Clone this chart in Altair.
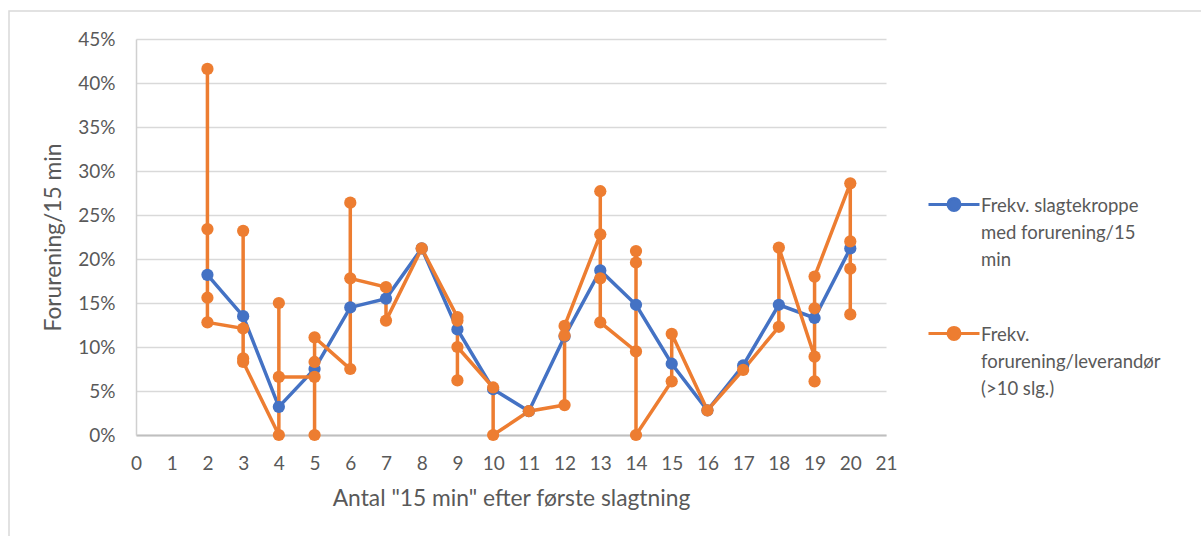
import altair as alt
import pandas as pd

# Blue series: frequency per 15 min
blue_x = list(range(2, 21))
blue_y = [18.2, 13.5, 3.2, 7.5, 14.5, 15.5, 21.2, 12.0, 5.2, 2.7, 11.2, 18.7, 14.8, 8.1, 2.8, 7.9, 14.8, 13.3, 21.2]

# Orange series: frequency per supplier (drawn in this order)
orange_x = [2, 2, 2, 2, 3, 3, 3, 3, 4, 4, 4, 5, 5, 5, 5, 6, 6, 6, 7, 7, 8,
            9, 9, 9, 9, 10, 10, 11, 12, 12, 12, 13, 13, 13, 13, 14, 14, 14, 14,
            15, 15, 16, 17, 18, 18, 19, 19, 19, 19, 20, 20, 20, 20]
orange_y = [41.6, 23.4, 15.6, 12.8, 12.1, 23.2, 8.7, 8.3, 0.0, 15.0, 6.6, 6.6, 0.0, 8.3, 11.1,
            7.5, 26.4, 17.8, 16.8, 13.0, 21.2, 13.4, 13.0, 6.2, 10.0, 5.4, 0.0, 2.7,
            3.4, 11.3, 12.4, 22.8, 27.7, 17.8, 12.8, 9.5, 20.9, 19.6, 0.0, 6.1, 11.5,
            2.8, 7.4, 12.3, 21.3, 8.9, 6.1, 14.4, 18.0, 28.6, 22.0, 18.9, 13.7]

s_blue = "Frekv. slagtekroppe med forurening/15 min"
s_orange = "Frekv. forurening/leverandør (>10 slg.)"
series_names = [s_blue, s_orange]
series_colors = ["#4472C4", "#ED7D31"]
y_ticks = [0, 5, 10, 15, 20, 25, 30, 35, 40, 45]
x_ticks = list(range(0, 22))

rows = []
for i, (x, y) in enumerate(zip(blue_x, blue_y)):
    rows.append({"x": x, "y": y, "series": s_blue, "idx": i})
for i, (x, y) in enumerate(zip(orange_x, orange_y)):
    rows.append({"x": x, "y": y, "series": s_orange, "idx": i})
df = pd.DataFrame(rows)

FONT = "Lato"
GREY = "#595959"

sym = ("M-1,0.29H1M-0.235,0.29A0.235,0.235,0,1,0,0.235,0.29"
       "A0.235,0.235,0,1,0,-0.235,0.29Z")

label_expr = ("datum.label == '" + s_blue + "' ? ['Frekv. slagtekroppe','med forurening/15','min'] : "
              "['Frekv.','forurening/leverandør','(>10 slg.)']")

color = alt.Color(
    "series:N",
    scale=alt.Scale(domain=series_names, range=series_colors),
    sort=series_names,
    legend=alt.Legend(
        title=None, orient="none", legendX=791, legendY=131,
        symbolType=sym, symbolSize=2601, symbolStrokeWidth=3,
        labelExpr=label_expr, labelFont=FONT, labelFontSize=18.5, labelColor=GREY,
        labelBaseline="top", labelLimit=400, labelOffset=0,
        rowPadding=29, padding=0,
    ),
)

xaxis = alt.Axis(values=x_ticks, title='Antal "15 min" efter første slagtning',
                 grid=False, ticks=False, domainColor="#bfbfbf", domainWidth=2,
                 labelOverlap=False, labelFlush=False,
                 labelPadding=19, titlePadding=14, format="d")
yaxis = alt.Axis(values=y_ticks, title="Forurening/15 min",
                 labelExpr="datum.value + '%'", grid=True, gridColor="#d9d9d9",
                 gridWidth=1.5, ticks=False, domainColor="#d0d0d0", domainWidth=1.5,
                 labelOverlap=False, labelPadding=21, titlePadding=12)
xenc = alt.X("x:Q", scale=alt.Scale(domain=[0, 21], nice=False), axis=xaxis)
yenc = alt.Y("y:Q", scale=alt.Scale(domain=[0, 45], nice=False), axis=yaxis)

base = alt.Chart(df)
lines = base.mark_line(strokeWidth=3.5).encode(
    x=xenc, y=yenc, color=color, order="idx:Q", detail="series:N")
points = base.mark_point(filled=True, size=150, opacity=1).encode(
    x=xenc, y=yenc, color=color)

frame = alt.Chart(alt.Data(values=[{"a": 1}])).mark_rect(
    fill=None, stroke="#d9d9d9", strokeWidth=1.5
).encode(x=alt.value(-127), x2=alt.value(1080), y=alt.value(-28), y2=alt.value(510))

chart = alt.layer(frame, lines, points).properties(
    width=750, height=396,
    padding={"left": 136, "top": 39, "right": 315, "bottom": 101},
    autosize=alt.AutoSizeParams(type="none"),
).configure(
    background="white", style={"guide-label": {"lineHeight": 27}}
).configure_view(stroke=None).configure_axis(
    labelFont=FONT, labelFontSize=19, labelColor=GREY,
    titleFont=FONT, titleFontSize=22.8, titleColor=GREY, titleFontWeight="normal",
    labelOverlap=False,
)

chart.save("out.html", embed_options={"renderer": "svg", "actions": False})
